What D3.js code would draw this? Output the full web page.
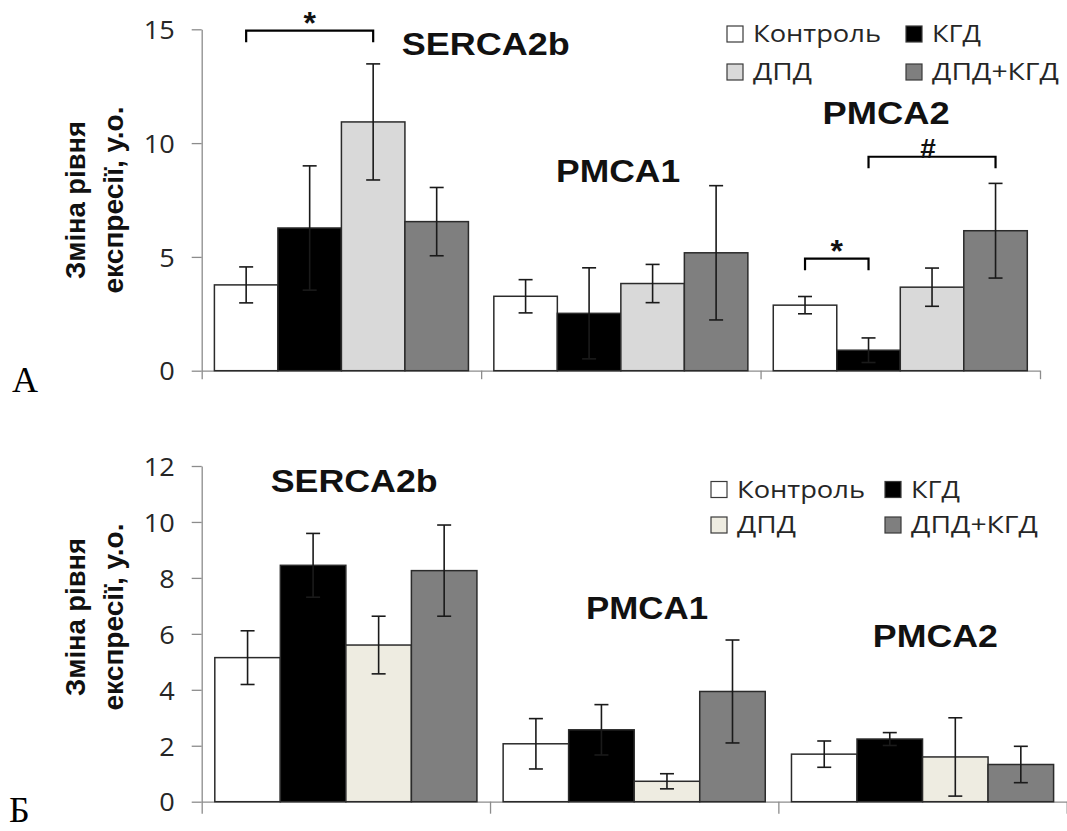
<!DOCTYPE html>
<html>
<head>
<meta charset="utf-8">
<script src="https://cdnjs.cloudflare.com/ajax/libs/d3/7.8.5/d3.min.js"></script>
<style>
	body { margin: 0; background: #fff; }
	svg { display: block; }
	.tick-label { font-family: "Open Sans", sans-serif; font-size: 25px; fill: #262626; }
	.legend-label { font-family: "Open Sans", sans-serif; font-size: 23px; fill: #262626; }
	.gene { font-family: "Liberation Sans", Arial, sans-serif; font-weight: bold; font-size: 31px; fill: #111; }
	.ytitle { font-family: "Liberation Sans", Arial, sans-serif; font-weight: bold; font-size: 27px; fill: #111; }
	.mark { font-family: "Liberation Sans", Arial, sans-serif; font-weight: bold; fill: #111; }
	.letter { font-family: "Liberation Serif", "Times New Roman", serif; font-size: 36px; fill: #000; }
</style>
</head>
<body>
<div id="viz"></div>
<script>

var genes = ["SERCA2b", "PMCA1", "PMCA2"];
var groups = ["Контроль", "КГД", "ДПД", "ДПД+КГД"];

// panel A (mean, error) per gene, per group
var meanA = [[3.77, 6.27, 10.93, 6.55], [3.27, 2.52, 3.83, 5.18], [2.88, 0.90, 3.67, 6.15]];
var errA = [[0.79, 2.73, 2.55, 1.50], [0.73, 2.00, 0.84, 2.95], [0.38, 0.54, 0.84, 2.08]];
var ticksA = [0, 5, 10, 15];

// panel B
var meanB = [[5.15, 8.45, 5.60, 8.26], [2.07, 2.57, 0.73, 3.94], [1.70, 2.24, 1.60, 1.33]];
var errB = [[0.96, 1.14, 1.03, 1.63], [0.90, 0.90, 0.27, 1.84], [0.47, 0.23, 1.40, 0.65]];
var ticksB = [0, 2, 4, 6, 8, 10, 12];

// significance brackets in panel A: gene, from group, to group, level, sign
var bracketsA = [
	{ gene: "SERCA2b", from: "Контроль", to: "ДПД", level: 14.94, sign: "*" },
	{ gene: "PMCA2", from: "Контроль", to: "КГД", level: 4.92, sign: "*" },
	{ gene: "PMCA2", from: "КГД", to: "ДПД+КГД", level: 9.4, sign: "#" }
];

var fillsA = ["#ffffff", "#000000", "#d9d9d9", "#7f7f7f"];
var fillsB = ["#ffffff", "#000000", "#eeece1", "#7f7f7f"];

var yTitle = ["Зміна рівня", "експресії, у.о."];

var svg = d3.select("#viz")
	.append("svg")
	.attr("width", 1067)
	.attr("height", 831);

var panels = [
	{
		letter: "А", letterX: 12, letterY: 392,
		top: 29.3, bottom: 370.7, left: 201.7, right: 1040, max: 15,
		ticks: ticksA, means: meanA, errs: errA, fills: fillsA, catTick: 8.5,
		titleY: 200,
		genePos: [[200, 13.87], [75, 8.29], [62, 10.84]],
		geneLen: [168, 124, 127],
		legendX: [727, 906], legendY: [42, 80],
		brackets: bracketsA
	},
	{
		letter: "Б", letterX: 9, letterY: 822,
		top: 466, bottom: 801.7, left: 201.7, right: 1066.7, max: 12,
		ticks: ticksB, means: meanB, errs: errB, fills: fillsB, catTick: 12,
		titleY: 617,
		genePos: [[69, 11.07], [96, 6.54], [94.5, 5.53]],
		geneLen: [167, 122, 125],
		legendX: [711, 885], legendY: [497.5, 533],
		brackets: []
	}
];

var legendLen = [128, 49, 59, 127];

panels.forEach(function(p) {
	var g = svg.append("g");

	var x0 = d3.scaleBand().domain(genes).range([p.left, p.right]).padding(0);
	var x1 = d3.scaleBand().domain(groups).range([0, x0.bandwidth()]).paddingInner(0).paddingOuter(0.2);
	var y = d3.scaleLinear().domain([0, p.max]).range([p.bottom, p.top]);
	var xc = function(gene, grp) { return x0(gene) + x1(grp) + x1.bandwidth() / 2; };

	// category ticks along the bottom
	var xEdges = d3.scaleLinear().domain([0, genes.length]).range([p.left, p.right]);
	var xAxis = g.append("g")
		.attr("transform", "translate(0," + p.bottom + ")")
		.call(d3.axisBottom(xEdges).tickValues(d3.range(genes.length + 1)).tickSize(p.catTick).tickSizeOuter(0).tickFormat(""));

	var yAxis = g.append("g")
		.attr("transform", "translate(" + p.left + ",0)")
		.call(d3.axisLeft(y).tickValues(p.ticks).tickSize(10).tickSizeOuter(0).tickPadding(17).tickFormat(d3.format("d")));

	[xAxis, yAxis].forEach(function(a) {
		a.attr("font-size", null).attr("font-family", null);
		a.selectAll("path, line").attr("stroke", "#8c8c8c").attr("stroke-width", 1.3);
	});
	yAxis.selectAll("text")
		.attr("class", "tick-label")
		.attr("fill", null)
		.attr("dy", "0.37em")
		.attr("textLength", function(d) { return String(d).length * 15.5; })
		.attr("lengthAdjust", "spacingAndGlyphs");

	// bars
	var cells = [];
	genes.forEach(function(gene, i) {
		groups.forEach(function(grp, j) {
			cells.push({ gene: gene, grp: grp, j: j, v: p.means[i][j], e: p.errs[i][j] });
		});
	});

	g.selectAll(".bar")
		.data(cells).enter()
		.append("rect")
		.attr("class", "bar")
		.attr("x", function(d) { return x0(d.gene) + x1(d.grp); })
		.attr("y", function(d) { return y(d.v); })
		.attr("width", x1.bandwidth())
		.attr("height", function(d) { return y(0) - y(d.v); })
		.attr("fill", function(d) { return p.fills[d.j]; })
		.attr("stroke", "#2b2b2b")
		.attr("stroke-width", 1.5);

	// error bars
	var eb = g.selectAll(".err")
		.data(cells).enter()
		.append("g")
		.attr("class", "err")
		.attr("stroke", "#1a1a1a")
		.attr("stroke-width", 1.6);
	eb.append("line")
		.attr("x1", function(d) { return xc(d.gene, d.grp); })
		.attr("x2", function(d) { return xc(d.gene, d.grp); })
		.attr("y1", function(d) { return y(d.v - d.e); })
		.attr("y2", function(d) { return y(d.v + d.e); });
	[-1, 1].forEach(function(s) {
		eb.append("line")
			.attr("x1", function(d) { return xc(d.gene, d.grp) - 7; })
			.attr("x2", function(d) { return xc(d.gene, d.grp) + 7; })
			.attr("y1", function(d) { return y(d.v + s * d.e); })
			.attr("y2", function(d) { return y(d.v + s * d.e); });
	});

	// gene names
	g.selectAll(".gene")
		.data(genes).enter()
		.append("text")
		.attr("class", "gene")
		.attr("x", function(d, i) { return x0(d) + p.genePos[i][0]; })
		.attr("y", function(d, i) { return y(p.genePos[i][1]); })
		.attr("textLength", function(d, i) { return p.geneLen[i]; })
		.attr("lengthAdjust", "spacingAndGlyphs")
		.text(function(d) { return d; });

	// significance brackets
	p.brackets.forEach(function(b) {
		var xa = xc(b.gene, b.from), xb = xc(b.gene, b.to), yl = y(b.level);
		g.append("path")
			.attr("d", "M" + xa + "," + (yl + 11.5) + "V" + yl + "H" + xb + "V" + (yl + 11.5))
			.attr("fill", "none")
			.attr("stroke", "#000")
			.attr("stroke-width", 2.2);
		g.append("text")
			.attr("class", "mark")
			.attr("x", (xa + xb) / 2 - (b.sign == "#" ? 4 : 0))
			.attr("y", yl + (b.sign == "*" ? 3 : 1))
			.attr("text-anchor", "middle")
			.attr("font-size", b.sign == "*" ? 32 : 28)
			.text(b.sign);
	});

	// y axis title
	g.selectAll(".ytitle")
		.data(yTitle).enter()
		.append("text")
		.attr("class", "ytitle")
		.attr("text-anchor", "middle")
		.attr("transform", function(d, i) { return "translate(" + (85 + i * 38) + "," + p.titleY + ") rotate(-90)"; })
		.attr("textLength", function(d, i) { return i == 0 ? 158 : 187; })
		.attr("lengthAdjust", "spacingAndGlyphs")
		.text(function(d) { return d; });

	// legend
	var leg = g.selectAll(".legend")
		.data(groups).enter()
		.append("g")
		.attr("class", "legend")
		.attr("transform", function(d, i) { return "translate(" + p.legendX[i % 2] + "," + p.legendY[Math.floor(i / 2)] + ")"; });
	leg.append("rect")
		.attr("x", 0)
		.attr("y", -16)
		.attr("width", 16)
		.attr("height", 16)
		.attr("fill", function(d, i) { return p.fills[i]; })
		.attr("stroke", "#3a3a3a")
		.attr("stroke-width", 1.2);
	leg.append("text")
		.attr("class", "legend-label")
		.attr("x", 26)
		.attr("y", 0)
		.attr("textLength", function(d, i) { return legendLen[i]; })
		.attr("lengthAdjust", "spacingAndGlyphs")
		.text(function(d) { return d; });

	g.append("text")
		.attr("class", "letter")
		.attr("x", p.letterX)
		.attr("y", p.letterY)
		.text(p.letter);
});

</script>
</body>
</html>
